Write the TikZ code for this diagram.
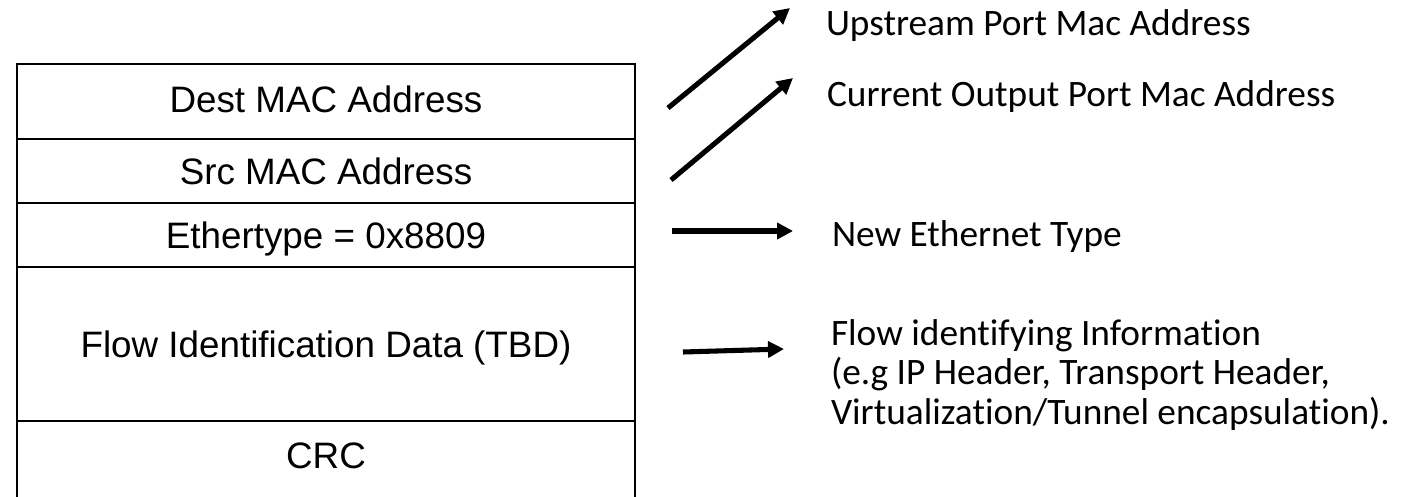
\documentclass[tikz,border=0pt]{standalone}
\usepackage{fontspec}
\setmainfont{Liberation Sans}
\newfontfamily\calibri[Ligatures=NoCommon]{Carlito}
\usetikzlibrary{positioning,arrows.meta}

\begin{document}
\begin{tikzpicture}[x=0.75pt,y=-0.75pt]
\tikzset{every node/.style={inner sep=0pt,outer sep=0pt}}
\tikzset{cell/.style={draw,line width=1.9pt,minimum width=463.5pt,font=\fontsize{27.6}{33}\selectfont,text height=19.8pt,text depth=0pt}}
\tikzset{note/.style={anchor=base west,align=left,font=\calibri\fontsize{28}{29.6}\selectfont}}
\tikzset{fat/.style={line width=3.8pt,-{Triangle[length=12pt,width=12pt]}}}
\useasboundingbox (0,0) rectangle (1412,496);
% frame fields
\node[cell,minimum height=56.25pt,text depth=3pt] (dest) at (326,101.5) {Dest MAC Address};
\node[cell,minimum height=48pt,below=0pt of dest] (src) {Src MAC Address};
\node[cell,minimum height=48pt,below=0pt of src] (etype) {Ethertype = 0x8809};
\node[cell,minimum height=115.5pt,below=0pt of etype] (flowid) {Flow Identification Data (TBD)};
\node[cell,minimum height=59.25pt,text depth=7.5pt,below=0pt of flowid] (crc) {CRC};
% notes (base of the last line for the block)
\node[note] (upstream) at (826,35) {Upstream Port Mac Address};
\node[note] (curport) at (827,106) {Current Output Port Mac Address};
\node[note] (newtype) at (832,246) {New Ethernet Type};
\node[note] (flowinfo) at (831,424) {Flow identifying Information\\(e.g IP Header, Transport Header,\\Virtualization/Tunnel encapsulation).};
% arrows
\coordinate (s1) at (668,108); \coordinate (t1) at (790,8);
\coordinate (s2) at (671,180); \coordinate (t2) at (793,78);
\coordinate (s3) at (672,231); \coordinate (t3) at (793,231);
\coordinate (s4) at (683,352); \coordinate (t4) at (784,349);
\draw[fat] (s1) -- (t1);
\draw[fat] (s2) -- (t2);
\draw[fat] (s3) -- (t3);
\draw[fat] (s4) -- (t4);
\end{tikzpicture}
\end{document}
